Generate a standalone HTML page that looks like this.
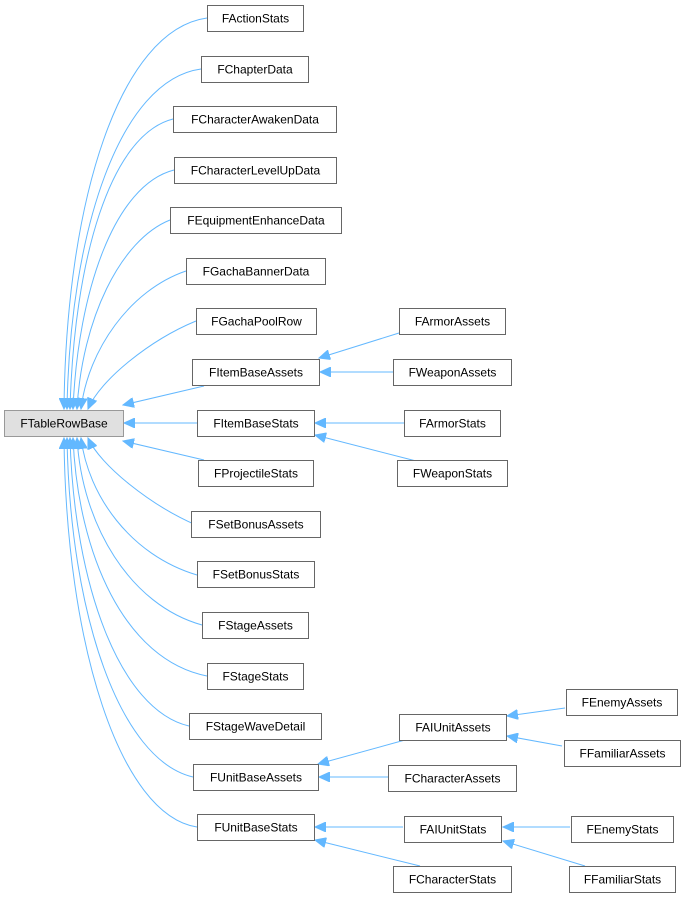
<!DOCTYPE html>
<html><head><meta charset="utf-8"><style>
html,body{margin:0;padding:0;background:#fff;}
svg{display:block;}
text{font-family:"Liberation Sans",Arial,sans-serif;font-size:12px;fill:#000;}
.b{fill:#fff;stroke:#666;stroke-width:1;}
.e{fill:none;stroke:#63b8ff;stroke-width:1;}
</style></head><body>
<svg width="686" height="899" viewBox="0 0 686 899" xmlns="http://www.w3.org/2000/svg">
<defs><marker id="a" markerWidth="12" markerHeight="10" refX="11" refY="5" orient="auto" markerUnits="userSpaceOnUse"><path d="M0,0 L11,5 L0,10 Z" fill="#63b8ff" stroke="#63b8ff"/></marker></defs>
<g class="e" marker-end="url(#a)">
<path d="M207,18 C120,30 66,200 64,409"/>
<path d="M201,69 C120,80 70,230 67,409"/>
<path d="M173,119 C110,135 74,260 70,409"/>
<path d="M174,170 C115,185 78,290 73,409"/>
<path d="M170,220 C120,240 82,320 77,409"/>
<path d="M186,271 C130,290 88,350 81,409"/>
<path d="M196,321 C150,340 100,380 88,409"/>
<path d="M204,386 L123,405"/>
<path d="M197,423 L124,423"/>
<path d="M204,460 L123,441"/>
<path d="M196,525 C150,505 100,465 88,438"/>
<path d="M197,575 C130,555 88,495 81,438"/>
<path d="M202,625 C130,605 82,525 77,438"/>
<path d="M207,676 C125,660 78,555 73,438"/>
<path d="M189,726 C120,710 74,585 70,438"/>
<path d="M193,777 C120,760 70,615 67,438"/>
<path d="M197,827 C120,815 66,645 64,438"/>
<path d="M399,333 L319,358"/>
<path d="M393,372 L320,372"/>
<path d="M404,423 L315,423"/>
<path d="M420,462 L315,435"/>
<path d="M405,740 L318,764"/>
<path d="M388,777 L319,777"/>
<path d="M403,827 L315,827"/>
<path d="M420,866 L315,840"/>
<path d="M565,708 L507,716"/>
<path d="M562,746 L507,736"/>
<path d="M570,827 L503,827"/>
<path d="M585,866 L503,841"/>
</g>
<g>
<rect x="4.5" y="410.5" width="119" height="26" fill="#e0e0e0" stroke="#999"/><text x="64" y="427.5" text-anchor="middle">FTableRowBase</text>
<rect class="b" x="207.5" y="5.5" width="96" height="26"/><text x="255.5" y="22.5" text-anchor="middle">FActionStats</text>
<rect class="b" x="201.5" y="56.5" width="107" height="26"/><text x="255" y="73.5" text-anchor="middle">FChapterData</text>
<rect class="b" x="173.5" y="106.5" width="163" height="26"/><text x="255" y="123.5" text-anchor="middle">FCharacterAwakenData</text>
<rect class="b" x="174.5" y="157.5" width="162" height="26"/><text x="255.5" y="174.5" text-anchor="middle">FCharacterLevelUpData</text>
<rect class="b" x="170.5" y="207.5" width="171" height="26"/><text x="256" y="224.5" text-anchor="middle">FEquipmentEnhanceData</text>
<rect class="b" x="186.5" y="258.5" width="139" height="26"/><text x="256" y="275.5" text-anchor="middle">FGachaBannerData</text>
<rect class="b" x="196.5" y="308.5" width="120" height="26"/><text x="256.5" y="325.5" text-anchor="middle">FGachaPoolRow</text>
<rect class="b" x="192.5" y="359.5" width="127" height="26"/><text x="256" y="376.5" text-anchor="middle">FItemBaseAssets</text>
<rect class="b" x="197.5" y="410.5" width="117" height="26"/><text x="256" y="427.5" text-anchor="middle">FItemBaseStats</text>
<rect class="b" x="198.5" y="460.5" width="115" height="26"/><text x="256" y="477.5" text-anchor="middle">FProjectileStats</text>
<rect class="b" x="191.5" y="511.5" width="129" height="26"/><text x="256" y="528.5" text-anchor="middle">FSetBonusAssets</text>
<rect class="b" x="197.5" y="561.5" width="117" height="26"/><text x="256" y="578.5" text-anchor="middle">FSetBonusStats</text>
<rect class="b" x="202.5" y="612.5" width="106" height="26"/><text x="255.5" y="629.5" text-anchor="middle">FStageAssets</text>
<rect class="b" x="207.5" y="663.5" width="96" height="26"/><text x="255.5" y="680.5" text-anchor="middle">FStageStats</text>
<rect class="b" x="189.5" y="713.5" width="132" height="26"/><text x="255.5" y="730.5" text-anchor="middle">FStageWaveDetail</text>
<rect class="b" x="193.5" y="764.5" width="125" height="26"/><text x="256" y="781.5" text-anchor="middle">FUnitBaseAssets</text>
<rect class="b" x="197.5" y="814.5" width="117" height="26"/><text x="256" y="831.5" text-anchor="middle">FUnitBaseStats</text>
<rect class="b" x="399.5" y="308.5" width="106" height="26"/><text x="452.5" y="325.5" text-anchor="middle">FArmorAssets</text>
<rect class="b" x="393.5" y="359.5" width="118" height="26"/><text x="452.5" y="376.5" text-anchor="middle">FWeaponAssets</text>
<rect class="b" x="404.5" y="410.5" width="96" height="26"/><text x="452.5" y="427.5" text-anchor="middle">FArmorStats</text>
<rect class="b" x="397.5" y="460.5" width="110" height="26"/><text x="452.5" y="477.5" text-anchor="middle">FWeaponStats</text>
<rect class="b" x="399.5" y="714.5" width="107" height="26"/><text x="453" y="731.5" text-anchor="middle">FAIUnitAssets</text>
<rect class="b" x="388.5" y="765.5" width="128" height="26"/><text x="452.5" y="782.5" text-anchor="middle">FCharacterAssets</text>
<rect class="b" x="404.5" y="816.5" width="97" height="26"/><text x="453" y="833.5" text-anchor="middle">FAIUnitStats</text>
<rect class="b" x="393.5" y="866.5" width="118" height="26"/><text x="452.5" y="883.5" text-anchor="middle">FCharacterStats</text>
<rect class="b" x="566.5" y="689.5" width="111" height="26"/><text x="622" y="706.5" text-anchor="middle">FEnemyAssets</text>
<rect class="b" x="564.5" y="740.5" width="116" height="26"/><text x="622.5" y="757.5" text-anchor="middle">FFamiliarAssets</text>
<rect class="b" x="571.5" y="816.5" width="102" height="26"/><text x="622.5" y="833.5" text-anchor="middle">FEnemyStats</text>
<rect class="b" x="569.5" y="866.5" width="106" height="26"/><text x="622.5" y="883.5" text-anchor="middle">FFamiliarStats</text>
</g>
</svg>
</body></html>
